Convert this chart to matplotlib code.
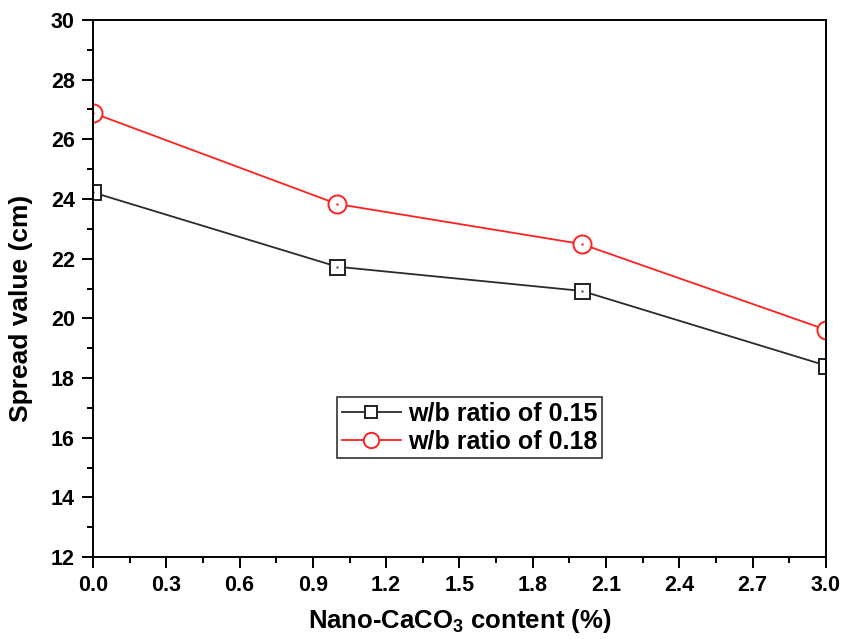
import matplotlib
matplotlib.use("Agg")
import matplotlib.pyplot as plt
from matplotlib.ticker import MultipleLocator, FormatStrFormatter

plt.rcParams['font.family'] = ['Liberation Sans', 'DejaVu Sans']
plt.rcParams['font.weight'] = 'bold'
plt.rcParams['mathtext.fontset'] = 'custom'
plt.rcParams['mathtext.rm'] = 'Liberation Sans:bold'
plt.rcParams['mathtext.it'] = 'Liberation Sans:bold'
plt.rcParams['mathtext.bf'] = 'Liberation Sans:bold'
plt.rcParams['mathtext.default'] = 'rm'

content = [0.0, 1.0, 2.0, 3.0]
spread_015 = [24.22, 21.73, 20.92, 18.42]
spread_018 = [26.88, 23.83, 22.49, 19.62]
labels = ['w/b ratio of 0.15', 'w/b ratio of 0.18']

fig = plt.figure(figsize=(8.45, 6.39), dpi=100)
ax = fig.add_axes([0.110, 0.128, 0.8675, 0.841])

ax.plot(content, spread_015, color='#2a2a2a', lw=1.3, marker='s', ms=10.8,
        mfc='white', mec='#222222', mew=1.4, label=labels[0])
ax.plot(content, spread_018, color='#ff2020', lw=1.3, marker='o', ms=13,
        mfc='white', mec='#ff2020', mew=1.4, label=labels[1])
ax.plot(content, spread_015, ls='none', marker='.', ms=1.5, color='#555555')
ax.plot(content, spread_018, ls='none', marker='.', ms=1.5, color='#ff2020')

ax.set_xlim(0, 3.0)
ax.set_ylim(12, 30)
ax.xaxis.set_major_locator(MultipleLocator(0.3))
ax.xaxis.set_minor_locator(MultipleLocator(0.15))
ax.yaxis.set_major_locator(MultipleLocator(2))
ax.yaxis.set_minor_locator(MultipleLocator(1))
ax.xaxis.set_major_formatter(FormatStrFormatter('%.1f'))

ax.tick_params(which='major', direction='out', length=8, width=1.4, labelsize=15.5, pad=5)
ax.tick_params(which='minor', direction='out', length=4, width=1.4)
ax.tick_params(top=False, right=False)
for s in ax.spines.values():
    s.set_linewidth(1.4)

ax.set_xlabel(r'Nano-CaCO$_3$ content (%)', fontsize=18.5, fontweight='bold')
ax.set_ylabel('Spread value (cm)', fontsize=19, fontweight='bold')
ax.xaxis.set_label_coords(0.5, -0.093)
ax.yaxis.set_label_coords(-0.082, 0.463)

leg = ax.legend(loc='lower left', bbox_to_anchor=(0.3329, 0.184), fontsize=18,
                frameon=True, fancybox=False, edgecolor='black', handlelength=2.36,
                borderpad=0.2, labelspacing=0.15, handletextpad=0.28, borderaxespad=0,
                markerscale=0.85)
leg.get_frame().set_linewidth(1.2)

fig.savefig('out.png', dpi=100)
